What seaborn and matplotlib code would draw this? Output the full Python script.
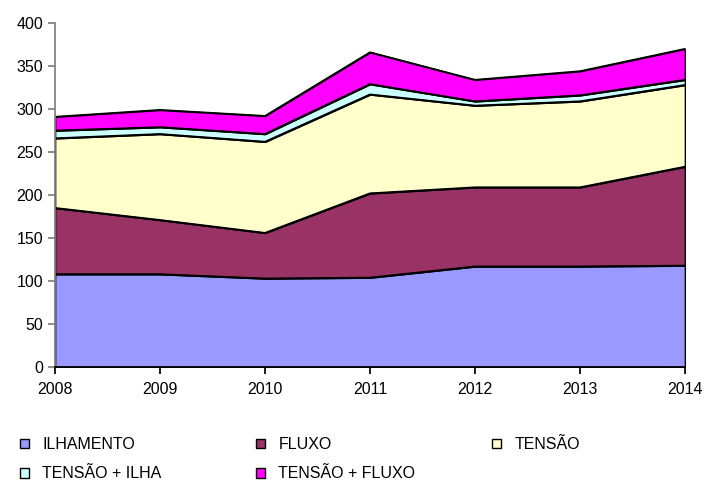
import pandas as pd
import matplotlib
matplotlib.use('Agg')
import matplotlib.pyplot as plt
from matplotlib.patches import Patch
import seaborn as sns

# dados
anos = [2008, 2009, 2010, 2011, 2012, 2013, 2014]
ilhamento = [108, 108, 103, 104, 117, 117, 118]
fluxo = [77, 63, 53, 98, 92, 92, 115]
tensao = [81, 100, 106, 115, 95, 100, 95]
tensao_ilha = [9, 8, 9, 12, 5, 7, 6]
tensao_fluxo = [16, 20, 21, 37, 25, 28, 36]

series = ['ILHAMENTO', 'FLUXO', 'TENSÃO', 'TENSÃO + ILHA', 'TENSÃO + FLUXO']
cores = ['#9999FF', '#993366', '#FFFFCC', '#CCFFFF', '#FF00FF']

df = pd.DataFrame({'Ano': anos, 'ILHAMENTO': ilhamento, 'FLUXO': fluxo,
                   'TENSÃO': tensao, 'TENSÃO + ILHA': tensao_ilha,
                   'TENSÃO + FLUXO': tensao_fluxo})

sns.set_theme(style='white')
plt.rcParams['font.family'] = ['Liberation Sans', 'DejaVu Sans']
plt.rcParams['text.color'] = 'black'

fig = plt.figure(figsize=(7.06, 4.82), dpi=100)
ax = fig.add_axes([55 / 706, 1 - 367 / 482, 630 / 706, 344 / 482])

ax.stackplot(df['Ano'], [df[s] for s in series], colors=cores,
             edgecolor='black', linewidth=1.2)

# contornos das camadas acumuladas
acumulado = df[series].cumsum(axis=1)
acumulado['Ano'] = df['Ano']
longo = acumulado.melt(id_vars='Ano', var_name='serie', value_name='valor')
sns.lineplot(data=longo, x='Ano', y='valor', units='serie', estimator=None,
             color='black', linewidth=1.2, ax=ax, legend=False)

ax.set_xlim(2008, 2014)
ax.set_ylim(0, 400)
ax.set_yticks(range(0, 401, 50))
ax.set_xticks(anos)
ax.set_xlabel('')
ax.set_ylabel('')
ax.tick_params(axis='both', labelsize=11.5, colors='black', length=5,
               direction='out', left=True, bottom=True)
ax.tick_params(axis='x', pad=6)
ax.tick_params(axis='y', color='#808080')
for lado in ['top', 'right']:
    ax.spines[lado].set_visible(False)
ax.spines['left'].set_color('#808080')
ax.spines['bottom'].set_color('black')

# legenda: tres colunas posicionadas como no original
colunas = [[0, 3], [1, 4], [2]]
x_colunas = [20, 256, 492]
for idx, x0 in zip(colunas, x_colunas):
    handles = [Patch(facecolor=cores[i], edgecolor='black', linewidth=1) for i in idx]
    labels = [series[i] for i in idx]
    fig.legend(handles, labels, loc='upper left',
               bbox_to_anchor=(x0 / 706, 1 - 437 / 482), frameon=False,
               fontsize=11.5, handlelength=0.55, handleheight=0.55,
               handletextpad=0.85, labelspacing=0.9, labelcolor='black',
               borderpad=0, borderaxespad=0)

fig.savefig('out.png', dpi=100)
